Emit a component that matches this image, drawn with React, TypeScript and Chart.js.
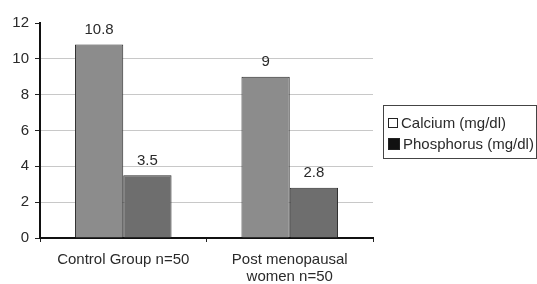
import React, { useEffect, useRef } from "react";
import { Chart, registerables } from "chart.js";

Chart.register(...registerables);

const categories: (string | string[])[] = ["Control Group n=50", ["Post menopausal", "women n=50"]];
const calcium = [10.8, 9];
const phosphorus = [3.5, 2.8];
const seriesNames = ["Calcium (mg/dl)", "Phosphorus (mg/dl)"];
const yTicks = [0, 2, 4, 6, 8, 10, 12];

const FONT = "'Liberation Sans', Arial, sans-serif";

const valueLabels = {
  id: "valueLabels",
  afterDatasetsDraw(chart: any) {
    const ctx = chart.ctx;
    ctx.save();
    ctx.font = `15px ${FONT}`;
    ctx.fillStyle = "#2a2a2a";
    ctx.textAlign = "center";
    ctx.textBaseline = "bottom";
    chart.data.datasets.forEach((ds: any, i: number) => {
      const meta = chart.getDatasetMeta(i);
      meta.data.forEach((bar: any, j: number) => {
        ctx.fillText(String(ds.data[j]), bar.x, bar.y - 7);
      });
    });
    ctx.restore();
  },
};

export default function App() {
  const ref = useRef<HTMLCanvasElement>(null);
  useEffect(() => {
    const chart = new Chart(ref.current!, {
      type: "bar",
      data: {
        labels: categories,
        datasets: [
          {
            label: seriesNames[0],
            data: calcium,
            backgroundColor: "#8c8c8c",
            borderColor: "#2a2a2a",
            borderWidth: 1,
            barPercentage: 1,
            categoryPercentage: 0.58,
          },
          {
            label: seriesNames[1],
            data: phosphorus,
            backgroundColor: "#6e6e6e",
            borderColor: "#2a2a2a",
            borderWidth: 1,
            barPercentage: 1,
            categoryPercentage: 0.58,
          },
        ],
      },
      options: {
        animation: false,
        responsive: false,
        devicePixelRatio: 1,
        layout: { padding: { left: 6, top: 23, right: 164, bottom: 0 } },
        plugins: { legend: { display: false }, tooltip: { enabled: false } },
        scales: {
          x: {
            afterFit: (s: any) => {
              s.height = 46;
            },
            grid: {
              offset: true,
              drawOnChartArea: false,
              drawTicks: true,
              tickLength: 4,
              tickColor: "#222",
            },
            border: { color: "#111", width: 2 },
            ticks: {
              color: "#2a2a2a",
              font: { family: FONT, size: 15, lineHeight: 1.15 },
              padding: 9,
            },
          },
          y: {
            min: 0,
            max: 12,
            afterBuildTicks: (s: any) => {
              s.ticks = yTicks.map((v) => ({ value: v }));
            },
            afterFit: (s: any) => {
              s.width = 34;
            },
            grid: {
              color: (c: any) =>
                c.tick && (c.tick.value === 0 || c.tick.value === 12) ? "rgba(0,0,0,0)" : "#c8c8c8",
              tickColor: "#222",
              tickLength: 5,
              drawTicks: true,
            },
            border: { color: "#111", width: 2 },
            ticks: { color: "#2a2a2a", font: { family: FONT, size: 15 }, padding: 6 },
          },
        },
      },
      plugins: [valueLabels],
    });
    return () => chart.destroy();
  }, []);

  const item = (fill: string, size: number, text: string) => (
    <div style={{ display: "flex", alignItems: "center", height: 21 }}>
      <span
        style={{
          display: "inline-block",
          width: size,
          height: size,
          border: "1px solid #222",
          background: fill,
          marginRight: 3,
          flexShrink: 0,
        }}
      />
      <span style={{ whiteSpace: "nowrap" }}>{text}</span>
    </div>
  );

  return (
    <div style={{ position: "fixed", left: 0, top: 0, width: 537, height: 284, background: "#fff" }}>
      <canvas ref={ref} width={537} height={284} style={{ position: "absolute", left: 0, top: 0 }} />
      <div
        style={{
          position: "absolute",
          left: 383,
          top: 105,
          width: 154,
          height: 54,
          border: "1px solid #444",
          fontFamily: FONT,
          fontSize: 15,
          color: "#2a2a2a",
          paddingLeft: 4,
          paddingTop: 6,
          boxSizing: "border-box",
          overflow: "hidden",
        }}
      >
        {item("#fff", 8, seriesNames[0])}
        {item("#111", 10, seriesNames[1])}
      </div>
    </div>
  );
}
